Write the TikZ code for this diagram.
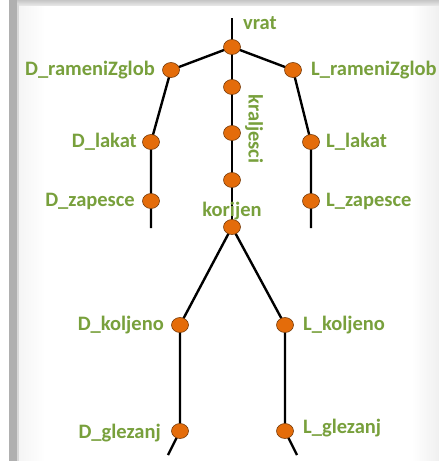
\documentclass[tikz,border=0pt]{standalone}
\usepackage{fontspec}
\setmainfont{Carlito}
\usetikzlibrary{shapes.geometric}
\pgfdeclarelayer{frame}
\pgfdeclarelayer{bones}
\pgfsetlayers{frame,bones,main}
\definecolor{lblgreen}{RGB}{120,160,60}
\definecolor{jointorange}{RGB}{228,108,10}
\definecolor{jointedge}{RGB}{120,60,10}
\tikzset{
  joint/.style={ellipse, fill=jointorange, draw=jointedge, line width=0.6pt, minimum width=17pt, minimum height=15pt, inner sep=0pt},
  bone/.style={line width=2.4pt, black},
  lbl/.style={text=lblgreen, font=\fontsize{20.5}{20.5}\selectfont\bfseries, inner sep=0pt}
}
\begin{document}
\begin{tikzpicture}[x=1pt,y=-1pt]
\useasboundingbox (0,0) rectangle (439,461);
\begin{pgfonlayer}{frame}
\fill[white] (0,0) rectangle (439,461);
\shade[left color=gray!8, right color=white] (19,4) rectangle (45,461);
\shade[left color=white, right color=gray!12] (412,4) rectangle (439,461);
\shade[top color=gray!45, bottom color=gray!20] (9,0) rectangle (439,5);
\fill[gray!62] (9,0) rectangle (17,461);
\fill[gray!30] (17,4) rectangle (19,461);
\end{pgfonlayer}

% joints
\node[joint] (vrat) at (232,47) {};
\node[joint] (drz) at (171,70) {};
\node[joint] (lrz) at (293,70) {};
\node[joint] (s1) at (232,87) {};
\node[joint] (s2) at (232,133) {};
\node[joint] (s3) at (232,180) {};
\node[joint] (kor) at (232,227) {};
\node[joint] (dlak) at (151,142) {};
\node[joint] (llak) at (311,142) {};
\node[joint] (dzap) at (151,201) {};
\node[joint] (lzap) at (311,201) {};
\node[joint] (dkol) at (180,325) {};
\node[joint] (lkol) at (285,325) {};
\node[joint] (dgle) at (180,431) {};
\node[joint] (lgle) at (285,431) {};
\coordinate (top) at (232,18);
\coordinate (dhand) at (151,228);
\coordinate (lhand) at (311,228);
\coordinate (dfoot) at (168,455);
\coordinate (lfoot) at (297,455);

% bones
\begin{pgfonlayer}{bones}
\draw[bone] (top) -- (vrat.center);
\draw[bone] (vrat.center) -- (drz.center);
\draw[bone] (vrat.center) -- (lrz.center);
\draw[bone] (vrat.center) -- (s1.center) -- (s2.center) -- (s3.center) -- (kor.center);
\draw[bone] (drz.center) -- (dlak.center) -- (dzap.center) -- (dhand);
\draw[bone] (lrz.center) -- (llak.center) -- (lzap.center) -- (lhand);
\draw[bone] (kor.center) -- (dkol.center) -- (dgle.center) -- (dfoot);
\draw[bone] (kor.center) -- (lkol.center) -- (lgle.center) -- (lfoot);
\end{pgfonlayer}

% labels
\node[lbl, anchor=west] (tvrat) at (243,23) {vrat};
\node[lbl, anchor=east] (tdrz) at (155,70) {D\_rameniZglob};
\node[lbl, anchor=west] (tlrz) at (311,70) {L\_rameniZglob};
\node[lbl, anchor=east] (tdlak) at (137,142) {D\_lakat};
\node[lbl, anchor=west] (tllak) at (326,142) {L\_lakat};
\node[lbl, anchor=east] (tdzap) at (135,201) {D\_zapesce};
\node[lbl, anchor=west] (tlzap) at (326,201) {L\_zapesce};
\node[lbl] (tkor) at (232,211) {korijen};
\node[lbl, rotate=-90] (tkra) at (254,129) {kraljesci};
\node[lbl, anchor=east] (tdkol) at (164,325) {D\_koljeno};
\node[lbl, anchor=west] (tlkol) at (303,325) {L\_koljeno};
\node[lbl, anchor=east] (tdgle) at (161,433) {D\_glezanj};
\node[lbl, anchor=west] (tlgle) at (303,428) {L\_glezanj};
\end{tikzpicture}
\end{document}
